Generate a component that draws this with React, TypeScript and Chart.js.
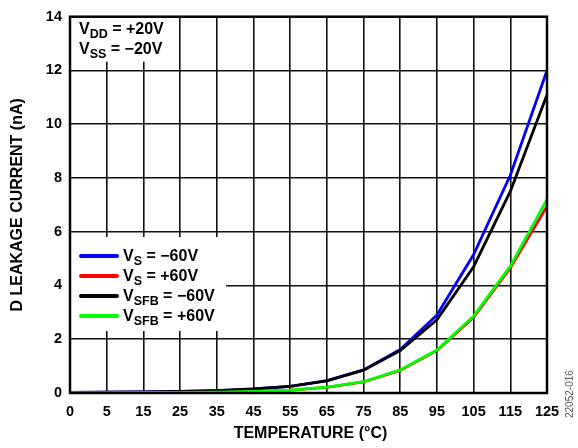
import React, { useEffect, useRef } from "react";
import { Chart, registerables } from "chart.js";

Chart.register(...registerables);

const temperatures = ["0", "5", "15", "25", "35", "45", "55", "65", "75", "85", "95", "105", "115", "125"];
const vsNeg60 = [0.02, 0.03, 0.04, 0.06, 0.09, 0.15, 0.25, 0.46, 0.86, 1.62, 2.9, 5.15, 8.1, 12.0];
const vsPos60 = [0.01, 0.01, 0.02, 0.02, 0.03, 0.06, 0.11, 0.21, 0.41, 0.84, 1.58, 2.82, 4.65, 6.95];
const vsfbNeg60 = [0.02, 0.03, 0.04, 0.06, 0.09, 0.15, 0.25, 0.45, 0.85, 1.58, 2.72, 4.7, 7.5, 11.1];
const vsfbPos60 = [0.01, 0.01, 0.02, 0.02, 0.03, 0.06, 0.11, 0.22, 0.42, 0.86, 1.6, 2.86, 4.72, 7.2];
const yTicks = [0, 2, 4, 6, 8, 10, 12, 14];

const seriesLabels = [
  { main: "V", sub: "S", rest: " = \u221260V" },
  { main: "V", sub: "S", rest: " = +60V" },
  { main: "V", sub: "SFB", rest: " = \u221260V" },
  { main: "V", sub: "SFB", rest: " = +60V" },
];
const conditionLabels = [
  { main: "V", sub: "DD", rest: " = +20V" },
  { main: "V", sub: "SS", rest: " = \u221220V" },
];

const FONT = "'Liberation Sans', Arial, sans-serif";

function drawSubText(ctx: CanvasRenderingContext2D, x: number, y: number, t: { main: string; sub: string; rest: string }) {
  ctx.save();
  ctx.fillStyle = "#000";
  ctx.textAlign = "left";
  ctx.textBaseline = "alphabetic";
  ctx.font = `bold 16px ${FONT}`;
  ctx.fillText(t.main, x, y);
  let cx = x + ctx.measureText(t.main).width;
  ctx.font = `bold 12.5px ${FONT}`;
  ctx.fillText(t.sub, cx, y + 4);
  cx += ctx.measureText(t.sub).width;
  ctx.font = `bold 16px ${FONT}`;
  ctx.fillText(t.rest, cx, y);
  ctx.restore();
}

const overlayPlugin = {
  id: "overlay",
  beforeDatasetsDraw(chart: any) {
    const { ctx, chartArea } = chart;
    const { left } = chartArea;
    ctx.save();
    ctx.fillStyle = "#fff";
    ctx.fillRect(left + 1, chartArea.top + 1, 102, 44);
    ctx.fillRect(left + 1, 237, 155, 94);
    ctx.restore();
  },
  afterDraw(chart: any) {
    const { ctx, chartArea } = chart;
    const { left, right, top, bottom } = chartArea;
    ctx.save();
    ctx.strokeStyle = "#000";
    ctx.lineWidth = 2.5;
    ctx.strokeRect(left, top, right - left, bottom - top);

    drawSubText(ctx, left + 9, top + 17, conditionLabels[0]);
    drawSubText(ctx, left + 9, top + 37, conditionLabels[1]);

    const rows = [256, 276, 296, 316];
    chart.data.datasets.forEach((ds: any, i: number) => {
      ctx.strokeStyle = ds.borderColor;
      ctx.lineWidth = 4;
      ctx.lineCap = "round";
      ctx.beginPath();
      ctx.moveTo(left + 11, rows[i]);
      ctx.lineTo(left + 47, rows[i]);
      ctx.stroke();
      drawSubText(ctx, left + 53, rows[i] + 5, seriesLabels[i]);
    });

    ctx.fillStyle = "#000";
    ctx.font = `bold 16px ${FONT}`;
    ctx.textAlign = "center";
    ctx.textBaseline = "middle";
    ctx.fillText("TEMPERATURE (\u00B0C)", (left + right) / 2 + 2, 434);
    ctx.save();
    ctx.translate(18, (top + bottom) / 2);
    ctx.rotate(-Math.PI / 2);
    ctx.fillText("D LEAKAGE CURRENT (nA)", 0, 0);
    ctx.restore();

    ctx.save();
    ctx.translate(570, 418);
    ctx.rotate(-Math.PI / 2);
    ctx.fillStyle = "#555";
    ctx.font = `10px ${FONT}`;
    ctx.textAlign = "left";
    ctx.fillText("22052-016", 0, 0);
    ctx.restore();
    ctx.restore();
  },
};

export default function App() {
  const ref = useRef<HTMLCanvasElement | null>(null);
  useEffect(() => {
    if (!ref.current) return;
    const mk = (data: number[], color: string, order: number) => ({
      data,
      borderColor: color,
      backgroundColor: color,
      borderWidth: 2.8,
      pointRadius: 0,
      tension: 0,
      fill: false,
      order,
    });
    const chart = new Chart(ref.current, {
      type: "line",
      data: {
        labels: temperatures,
        datasets: [
          mk(vsNeg60, "#0000ff", 4),
          mk(vsPos60, "#ff0000", 3),
          mk(vsfbNeg60, "#000000", 2),
          mk(vsfbPos60, "#00ff00", 1),
        ],
      },
      options: {
        animation: false,
        responsive: false,
        devicePixelRatio: 1,
        layout: { padding: { left: 0, top: 12, right: 31, bottom: 0 } },
        plugins: { legend: { display: false }, tooltip: { enabled: false } },
        scales: {
          x: {
            type: "category",
            offset: false,
            grid: { color: "#111", lineWidth: 1.6, drawTicks: false },
            border: { display: false },
            ticks: {
              color: "#000",
              font: { family: FONT, size: 14.5, weight: "bold" },
              padding: 10,
              maxRotation: 0,
              autoSkip: false,
            },
            afterFit: (s: any) => {
              s.height = 55;
            },
          },
          y: {
            min: 0,
            max: 14,
            afterBuildTicks: (s: any) => {
              s.ticks = yTicks.map((v) => ({ value: v }));
            },
            grid: { color: "#111", lineWidth: 1.6, drawTicks: false },
            border: { display: false },
            ticks: {
              color: "#000",
              font: { family: FONT, size: 14.5, weight: "bold" },
              padding: 8,
            },
            afterFit: (s: any) => {
              s.width = 70;
            },
          },
        },
      },
      plugins: [overlayPlugin],
    } as any);
    return () => chart.destroy();
  }, []);
  return (
    <div style={{ position: "fixed", left: 0, top: 0, width: 578, height: 448, background: "#fff" }}>
      <canvas ref={ref} width={578} height={448} style={{ width: 578, height: 448 }} />
    </div>
  );
}
